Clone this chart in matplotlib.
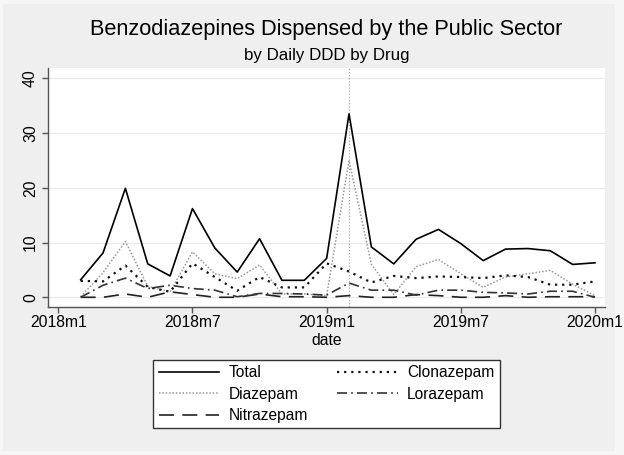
import matplotlib
matplotlib.use("Agg")
import matplotlib.pyplot as plt
from matplotlib.patches import Rectangle

plt.rcParams['font.family'] = ['Liberation Sans', 'DejaVu Sans']

# months 2018m2 .. 2020m1, index 0 = 2018m1
months = [1, 2, 3, 4, 5, 6, 7, 8, 9, 10, 11, 12,
          13, 14, 15, 16, 17, 18, 19, 20, 21, 22, 23, 24]
tick_pos = [0, 6, 12, 18, 24]
tick_labels = ["2018m1", "2018m7", "2019m1", "2019m7", "2020m1"]
mark_month = 13  # 2019m2

total = [3.2, 8.1, 19.9, 6.1, 3.9, 16.2, 9.0, 4.6, 10.7, 3.1, 3.1, 7.1,
         33.5, 9.2, 6.1, 10.6, 12.4, 9.8, 6.7, 8.8, 8.9, 8.5, 6.0, 6.3]
clonazepam = [3.0, 2.9, 5.8, 1.9, 1.0, 6.2, 3.7, 1.2, 3.7, 1.8, 1.8, 6.2,
              4.7, 2.7, 3.9, 3.5, 3.8, 3.7, 3.5, 4.0, 3.7, 2.3, 2.3, 2.9]
diazepam = [0.1, 4.5, 10.2, 2.0, 1.0, 8.3, 4.3, 3.4, 5.9, 0.6, 0.6, 0.3,
            25.0, 6.0, 0.5, 5.6, 6.9, 4.3, 1.8, 3.7, 4.3, 4.9, 2.4, 0.3]
lorazepam = [0.0, 2.2, 3.5, 1.6, 2.2, 1.6, 1.3, 0.1, 0.7, 0.7, 0.6, 0.4,
             2.6, 1.3, 1.3, 0.4, 1.3, 1.3, 0.9, 0.8, 0.6, 1.1, 1.1, 0.0]
nitrazepam = [0.0, 0.0, 0.6, 0.0, 1.0, 0.5, 0.0, 0.0, 0.6, 0.1, 0.1, 0.0,
              0.3, 0.0, 0.0, 0.5, 0.3, 0.0, 0.0, 0.3, 0.0, 0.1, 0.1, 0.1]

W, H = 624, 455
fig = plt.figure(figsize=(W / 100, H / 100), dpi=100, facecolor='#f6f6f6')
fig.patches.append(Rectangle((3 / W, 4 / H), 612 / W, 447 / H,
                             transform=fig.transFigure, facecolor='#efefef',
                             edgecolor='none', zorder=-10))

ax = fig.add_axes([48.3 / W, 1 - 306.7 / H, (605 - 48.3) / W, (306.7 - 68) / H])
ax.set_facecolor('white')

ax.axvline(mark_month, color='#aaaaaa', lw=0.9, ls=(0, (1, 1.5)), zorder=1)

ax.plot(months, total, color='black', lw=1.2, ls='-', label='Total', zorder=5)
ax.plot(months, diazepam, color='#999999', lw=1.1, ls=(0, (1, 1.2)), label='Diazepam', zorder=3)
ax.plot(months, nitrazepam, color='#222222', lw=1.2, ls=(0, (9, 5)), label='Nitrazepam', zorder=3)
ax.plot(months, clonazepam, color='#111111', lw=1.6, ls=(0, (1, 2.2)), label='Clonazepam', zorder=4)
ax.plot(months, lorazepam, color='#333333', lw=1.2, ls=(0, (6, 2.5, 1, 2.5)), label='Lorazepam', zorder=3)

ax.set_xlim(-0.447, 24.447)
ax.set_ylim(-1.72, 41.88)
ax.set_yticks([0, 10, 20, 30, 40])
ax.set_xticks(tick_pos)
ax.set_xticklabels(tick_labels)
ax.grid(axis='y', color='#ebebeb', lw=0.8)
ax.set_axisbelow(True)

for s in ['top', 'right']:
    ax.spines[s].set_visible(False)
for s in ['left', 'bottom']:
    ax.spines[s].set_color('#555555')
    ax.spines[s].set_linewidth(1.0)

ax.tick_params(axis='both', colors='#555555', labelcolor='black', labelsize=11.3,
               length=4.5, width=1.0)
ax.tick_params(axis='x', pad=1.5)
ax.tick_params(axis='y', pad=3)
for lab in ax.get_yticklabels():
    lab.set_rotation(90)
    lab.set_va('center')

fig.text(326.5 / W, 1 - 35.5 / H, "Benzodiazepines Dispensed by the Public Sector",
         ha='center', va='baseline', fontsize=15.7)
fig.text(326.5 / W, 1 - 60 / H, "by Daily DDD by Drug",
         ha='center', va='baseline', fontsize=12.2)
fig.text(326.5 / W, 1 - 345 / H, "date", ha='center', va='baseline', fontsize=11.3)

leg = fig.legend(loc='center', bbox_to_anchor=(326.5 / W, 1 - 394 / H), ncol=2,
                 fontsize=11.2, handlelength=3.9, handletextpad=0.6,
                 columnspacing=1.85, labelspacing=0.42, borderpad=0.35,
                 fancybox=False, framealpha=1, edgecolor='#333333')
leg.get_frame().set_linewidth(1.0)

fig.savefig('out.png', dpi=100, facecolor=fig.get_facecolor())
